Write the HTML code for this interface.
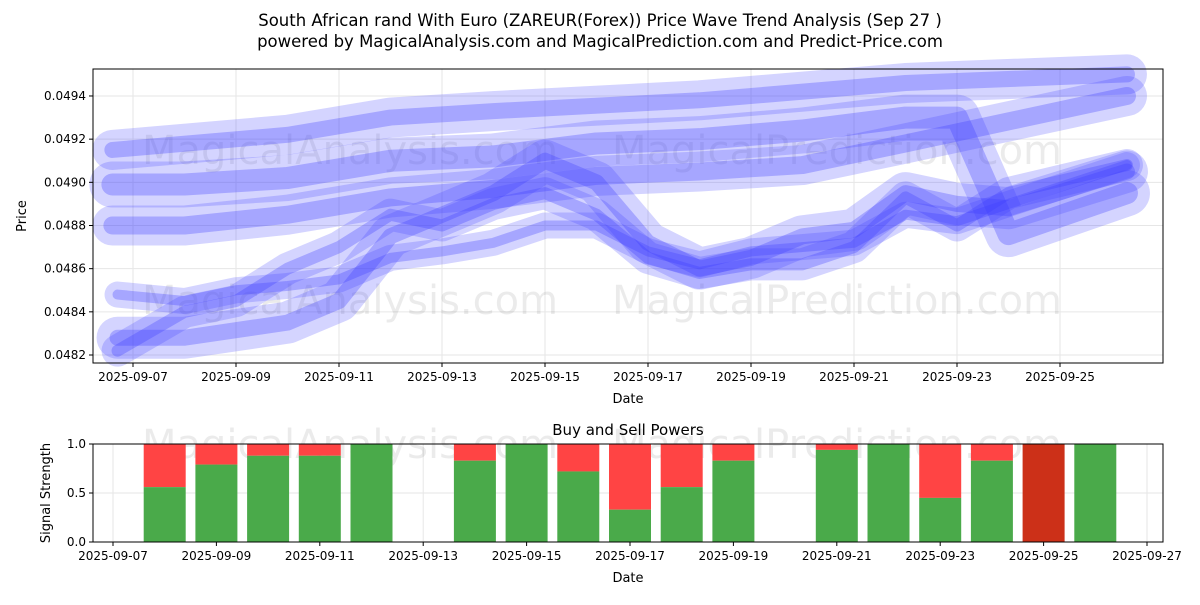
<!DOCTYPE html>
<html><head><meta charset="utf-8"><style>
body{margin:0;background:#fff;font-family:"Liberation Sans","DejaVu Sans",sans-serif;}
svg text{font-family:"DejaVu Sans","Liberation Sans",sans-serif;}
</style></head><body>
<svg id="c" width="1200" height="600" xmlns="http://www.w3.org/2000/svg">
<text x="600" y="26" text-anchor="middle" font-size="16.5">South African rand With Euro (ZAREUR(Forex)) Price Wave Trend Analysis (Sep 27 )</text>
<text x="600" y="47" text-anchor="middle" font-size="16.5">powered by MagicalAnalysis.com and MagicalPrediction.com and Predict-Price.com</text>
<g id="topg"></g>
<g id="botg"></g>
</svg>
<script>
const lineDays=[
 [6.6,8,10,12,14,16,18,20,22,23,24,26.3],
 [6.6,10,12,14,18,22,26.3],
 [6.6,8,10,12,14,16,18,20,22,26.3],
 [6.7,8,9,10,11,12,13,14,15,16,17,18,19,20,21,22,23,24,26.3],
 [6.7,8,10,11,12,13,14,15,16,17,18,19,20,21,22,23,24,26.3],
 [6.7,8,9,10,11,12,13,14,15,16,17,18,19,20,21,22,23,24,26.3]
];
const lineVals=[
 [0.04899,0.04899,0.04902,0.04910,0.04912,0.04918,0.04920,0.04924,0.04930,0.04930,0.04876,0.04895],
 [0.04915,0.04922,0.04930,0.04933,0.04938,0.04946,0.04950],
 [0.04880,0.04880,0.04885,0.04893,0.04897,0.04903,0.04905,0.04908,0.04918,0.04940],
 [0.04848,0.04845,0.04850,0.04852,0.04855,0.04865,0.04868,0.04872,0.04880,0.04880,0.04868,0.04862,0.04868,0.04870,0.04872,0.04885,0.04882,0.04890,0.04908],
 [0.04828,0.04828,0.04835,0.04845,0.04875,0.04885,0.04895,0.04910,0.04900,0.04872,0.04860,0.04865,0.04875,0.04878,0.04895,0.04890,0.04888,0.04905],
 [0.04822,0.04840,0.04845,0.04860,0.04870,0.04885,0.04880,0.04890,0.04895,0.04885,0.04865,0.04858,0.04862,0.04862,0.04870,0.04893,0.04880,0.04895,0.04908]
];
const yTicks=[0.0482,0.0484,0.0486,0.0488,0.0490,0.0492,0.0494];
const xTickDays=[7,9,11,13,15,17,19,21,23,25];
const barDays=[8,9,10,11,12,14,15,16,17,18,19,21,22,23,24,25,26];
const buyVals=[0.56,0.79,0.88,0.88,1.0,0.83,1.0,0.72,0.33,0.56,0.83,0.94,1.0,0.45,0.83,0,1.0];
const botTickDays=[7,9,11,13,15,17,19,21,23,25,27];
const botYTicks=[0,0.5,1.0];

const NS="http://www.w3.org/2000/svg";
function mk(p,t,a,txt){const e=document.createElementNS(NS,t);for(const k in a)e.setAttribute(k,a[k]);if(txt!=null)e.textContent=txt;p.appendChild(e);return e;}
const topG=document.getElementById('topg'),botG=document.getElementById('botg');
const X=d=>133+(d-7)*51.5, Y=v=>355-(v-0.0482)/0.0002*43.17;
const L=93,R=1163,T=69,B=363;
yTicks.forEach(v=>{mk(topG,'line',{x1:L,x2:R,y1:Y(v),y2:Y(v),stroke:'#e6e6e6'});});
xTickDays.forEach(d=>{mk(topG,'line',{x1:X(d),x2:X(d),y1:T,y2:B,stroke:'#e6e6e6'});});
[[350,150],[837,150],[350,300],[837,300]].forEach((p,i)=>{const t=mk(topG,'text',{x:p[0],y:p[1]+14,'text-anchor':'middle','font-size':40,fill:'#000','fill-opacity':0.08},i%2?'MagicalPrediction.com':'MagicalAnalysis.com');

});
const widths=[[46,22],[40,16],[40,18],[26,10],[42,16],[32,12]];
lineVals.forEach((vals,i)=>{
 const pts=vals.map((v,j)=>X(lineDays[i][j])+','+Y(v)).join(' ');
 widths[i].forEach((w,k)=>{const p=mk(topG,'polyline',{points:pts,fill:'none',stroke:'rgb(60,60,255)','stroke-opacity':k?0.3:0.22,'stroke-width':w,'stroke-linecap':'round','stroke-linejoin':'round'});
 
 });
});
mk(topG,'rect',{x:L,y:T,width:R-L,height:B-T,fill:'none',stroke:'#000','stroke-width':1});
yTicks.forEach(v=>{mk(topG,'line',{x1:L-4,x2:L,y1:Y(v),y2:Y(v),stroke:'#000'});mk(topG,'text',{x:L-7,y:Y(v)+4,'text-anchor':'end','font-size':12},v.toFixed(4));});
xTickDays.forEach(d=>{mk(topG,'line',{x1:X(d),x2:X(d),y1:B,y2:B+4,stroke:'#000'});mk(topG,'text',{x:X(d),y:B+18,'text-anchor':'middle','font-size':12},'2025-09-'+String(d).padStart(2,'0'));});
mk(topG,'text',{x:628,y:403,'text-anchor':'middle','font-size':13},'Date');
mk(topG,'text',{x:26,y:216,'text-anchor':'middle','font-size':13,transform:'rotate(-90 26 216)'},'Price');
const BX=d=>113+(d-7)*51.7, BY=v=>542-v*98;const BT=444,BB=542;
mk(botG,'text',{x:628,y:435,'text-anchor':'middle','font-size':15},'Buy and Sell Powers');
botYTicks.forEach(v=>mk(botG,'line',{x1:L,x2:R,y1:BY(v),y2:BY(v),stroke:'#e6e6e6'}));
botTickDays.forEach(d=>mk(botG,'line',{x1:BX(d),x2:BX(d),y1:BT,y2:BB,stroke:'#e6e6e6'}));
mk(botG,'text',{x:350,y:458,'text-anchor':'middle','font-size':40,'fill-opacity':0.08},'MagicalAnalysis.com');
mk(botG,'text',{x:837,y:458,'text-anchor':'middle','font-size':40,'fill-opacity':0.08},'MagicalPrediction.com');
barDays.forEach((d,i)=>{const v=buyVals[i],x=BX(d)-21;
 const r=mk(botG,'rect',{x:x,y:BY(1),width:42,height:BY(v)-BY(1),fill:v===0?'#cc3018':'#ff4444'});
 
 
 const g=mk(botG,'rect',{x:x,y:BY(v),width:42,height:BB-BY(v),fill:'#4aaa4a'});
 
 });
mk(botG,'rect',{x:L,y:BT,width:R-L,height:BB-BT,fill:'none',stroke:'#000'});
botYTicks.forEach(v=>{mk(botG,'line',{x1:L-4,x2:L,y1:BY(v),y2:BY(v),stroke:'#000'});mk(botG,'text',{x:L-7,y:BY(v)+4,'text-anchor':'end','font-size':12},v.toFixed(1));});
botTickDays.forEach(d=>{mk(botG,'line',{x1:BX(d),x2:BX(d),y1:BB,y2:BB+4,stroke:'#000'});mk(botG,'text',{x:BX(d),y:BB+18,'text-anchor':'middle','font-size':12},'2025-09-'+String(d).padStart(2,'0'));});
mk(botG,'text',{x:628,y:582,'text-anchor':'middle','font-size':13},'Date');
mk(botG,'text',{x:50,y:493,'text-anchor':'middle','font-size':13,transform:'rotate(-90 50 493)'},'Signal Strength');
</script>
</body></html>
